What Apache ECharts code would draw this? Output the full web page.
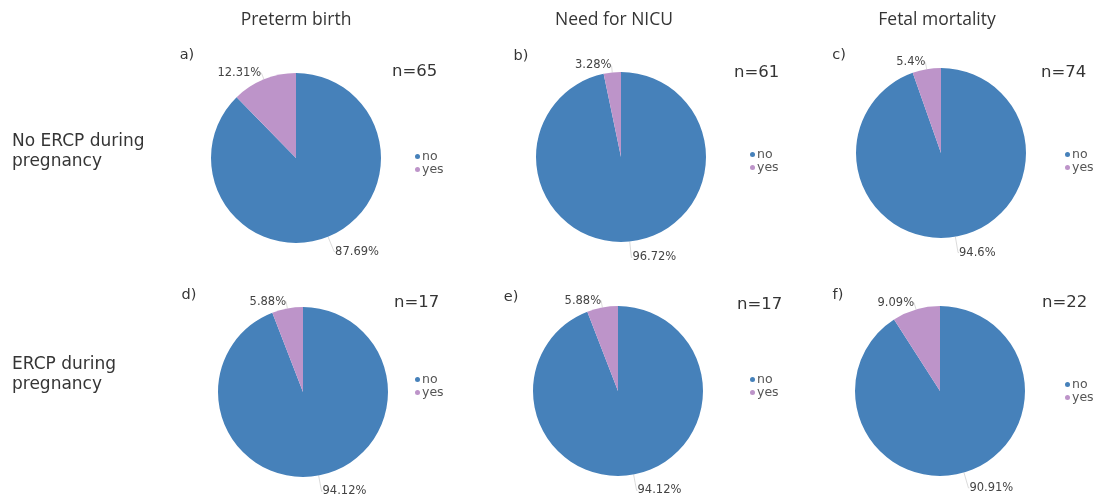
<!DOCTYPE html>
<html>
<head>
<meta charset="utf-8">
<script src="https://cdn.jsdelivr.net/npm/echarts@6/dist/echarts.min.js"></script>
<style>
  html, body { margin: 0; padding: 0; background: #fff; }
  #chart { width: 1099px; height: 497px; }
</style>
</head>
<body>
<div id="chart"></div>
<script>
// Outcome categories and percentages per panel
const categories = ['no', 'yes'];
const columnTitles = ['Preterm birth', 'Need for NICU', 'Fetal mortality'];
const rowTitles = ['No ERCP during\npregnancy', 'ERCP during\npregnancy'];
const panelLetters = ['a)', 'b)', 'c)', 'd)', 'e)', 'f)'];
const sampleSizes = [65, 61, 74, 17, 17, 22];
const pretermNoErcp = [87.69, 12.31];
const nicuNoErcp = [96.72, 3.28];
const mortalityNoErcp = [94.6, 5.4];
const pretermErcp = [94.12, 5.88];
const nicuErcp = [94.12, 5.88];
const mortalityErcp = [90.91, 9.09];
const panelValues = [pretermNoErcp, nicuNoErcp, mortalityNoErcp, pretermErcp, nicuErcp, mortalityErcp];

const colors = ['#4681ba', '#bd94c9'];
const textColor = '#353535';
const baseFont = '"DejaVu Sans", sans-serif';

// Panel layout (pixel positions)
const pieCenters = [[296, 158], [621, 157], [941, 153], [303, 392], [618, 391], [940, 391]];
const letterPos = [[187, 55], [521, 56], [839, 55], [189, 295], [511, 297], [838, 295]];
const nPos = [[392, 72], [734, 73], [1041, 73], [394, 303], [737, 305], [1042, 303]];
const legendPos = [[415, 150], [750, 148], [1065, 148], [415, 373], [750, 373], [1065, 378]];
const colTitleX = [296, 614, 937];
const rowTitleY = [132, 355];
// label leader length for the large ("no") and small ("yes") slice
const leaderLength = [16, 7];

const chart = echarts.init(document.getElementById('chart'), null, { renderer: 'canvas' });

const series = panelValues.map((vals, i) => ({
  type: 'pie',
  center: pieCenters[i],
  radius: 85,
  startAngle: 90,
  clockwise: true,
  silent: true,
  animation: false,
  label: {
    show: true,
    position: 'outside',
    formatter: p => p.value + '%',
    fontFamily: baseFont,
    fontSize: 11.5,
    color: '#444',
    distanceToLabelLine: 0
  },
  labelLine: {
    show: true,
    length: 7,
    length2: 1,
    lineStyle: { color: '#d2d2d2', width: 0.8 }
  },
  itemStyle: { borderWidth: 0 },
  emphasis: { disabled: true },
  data: categories.map((c, k) => ({
    name: c,
    value: vals[k],
    labelLine: { length: leaderLength[k], length2: k === 0 ? 1 : 0 }
  }))
}));

const legends = legendPos.map(p => ({
  data: categories,
  orient: 'vertical',
  left: p[0],
  top: p[1],
  icon: 'circle',
  itemWidth: 5,
  itemHeight: 5,
  itemGap: 0,
  padding: 0,
  selectedMode: false,
  textStyle: { fontFamily: baseFont, fontSize: 12.5, color: '#555', padding: [0, 0, 0, -3], lineHeight: 12 }
}));

const texts = [];
columnTitles.forEach((t, i) => texts.push({
  type: 'text', x: colTitleX[i], y: 20,
  style: { text: t, fill: textColor, font: '17.5px "Open Sans", sans-serif', align: 'center', verticalAlign: 'middle' }
}));
rowTitles.forEach((t, i) => texts.push({
  type: 'text', x: 12, y: rowTitleY[i],
  style: { text: t, fill: textColor, font: '17px ' + baseFont, lineHeight: 20, align: 'left', verticalAlign: 'top' }
}));
panelLetters.forEach((t, i) => texts.push({
  type: 'text', x: letterPos[i][0], y: letterPos[i][1],
  style: { text: t, fill: textColor, font: '14.5px ' + baseFont, align: 'center', verticalAlign: 'middle' }
}));
sampleSizes.forEach((n, i) => texts.push({
  type: 'text', x: nPos[i][0], y: nPos[i][1],
  style: { text: 'n=' + n, fill: textColor, font: '16.5px ' + baseFont, align: 'left', verticalAlign: 'middle' }
}));

chart.setOption({
  backgroundColor: '#ffffff',
  animation: false,
  color: colors,
  legend: legends,
  series: series,
  graphic: texts
});
</script>
</body>
</html>
